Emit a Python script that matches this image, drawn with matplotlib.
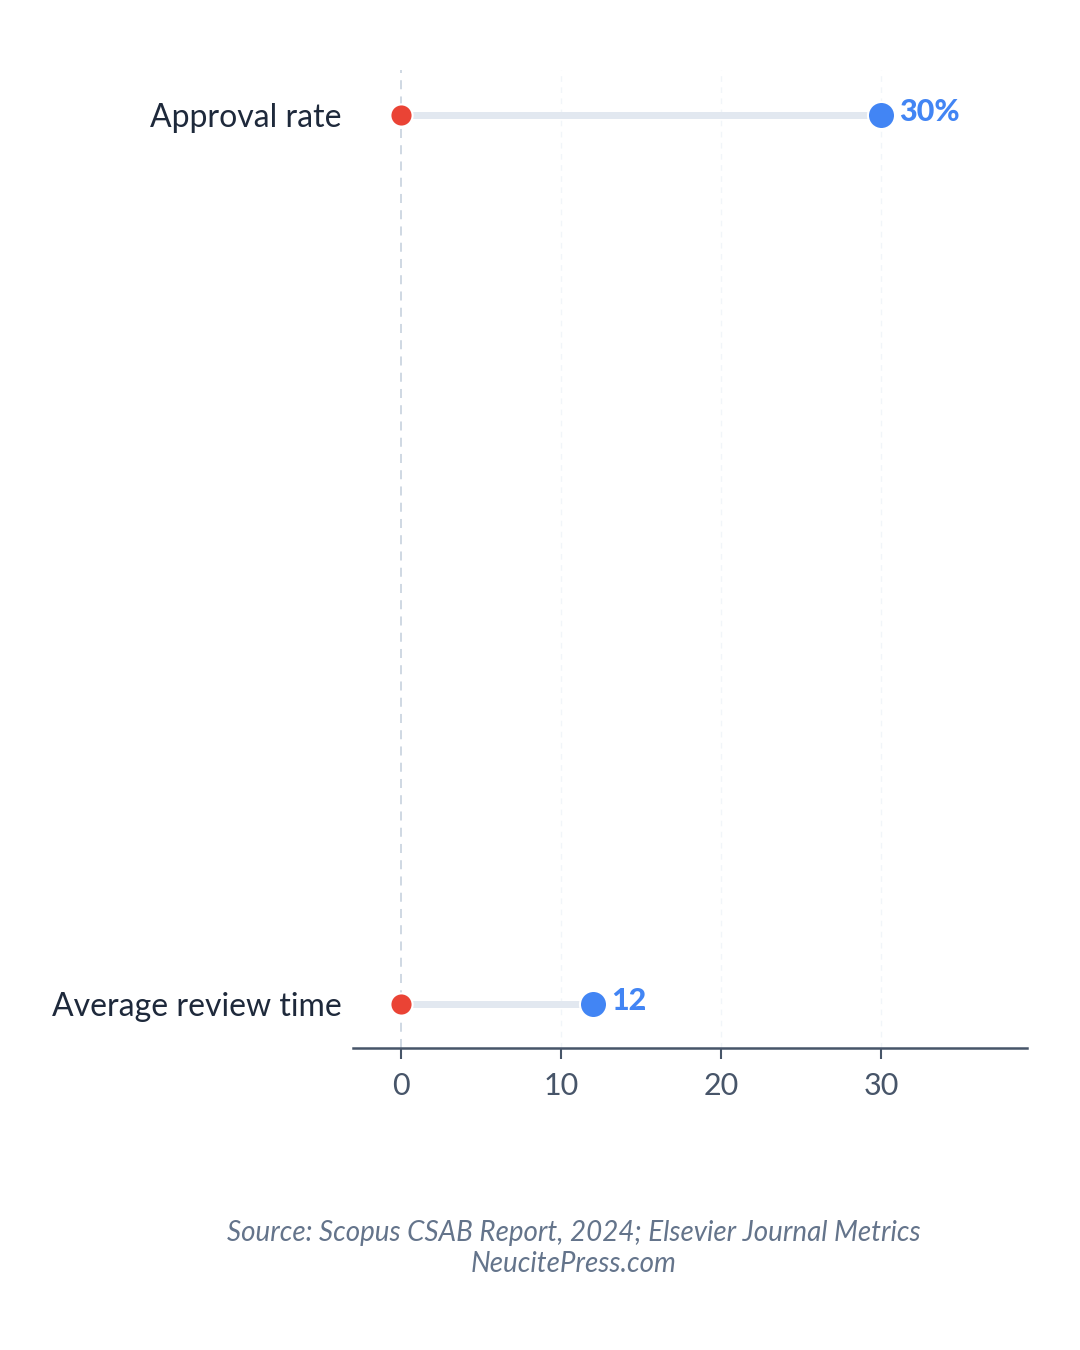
import matplotlib.pyplot as plt

# data
categories = ['Average review time', 'Approval rate']
start_vals = [0, 0]
end_vals = [12, 30]
end_labels = ['12', '30%']
x_ticks = [0, 10, 20, 30]

RED = '#ea4335'
BLUE = '#4285f4'
plt.rcParams['font.family'] = ['Lato', 'DejaVu Sans']

fig = plt.figure(figsize=(10.8, 13.5), dpi=100)
ax = fig.add_axes([0.3269, 0.2237, 0.624, 0.7244])

ypos = list(range(len(categories)))

# faint vertical grid + zero line
for t in x_ticks[1:]:
    ax.axvline(t, color='#f1f5f9', lw=1, ls=(0, (4, 4)), zorder=0)
ax.axvline(0, color='#cbd5e1', lw=1.3, ls=(0, (5, 4)), zorder=1)

# connectors and dots
for y, s, e, lab in zip(ypos, start_vals, end_vals, end_labels):
    ax.plot([s, e], [y, y], color='#e2e8f0', lw=5, solid_capstyle='butt', zorder=2)
    ax.plot(s, y, 'o', color=RED, ms=16, mec='white', mew=1.5, zorder=3)
    ax.plot(e, y, 'o', color=BLUE, ms=19.5, mec='white', mew=1.5, zorder=4)
    ax.annotate(lab, (e, y), xytext=(13, 2), textcoords='offset points',
                ha='left', va='center', fontsize=22, fontweight='black', color=BLUE)

ax.set_xlim(-3, 39.1)
ax.set_ylim(-0.05, 1.05)
ax.set_xticks(x_ticks)
ax.set_yticks(ypos)
ax.set_yticklabels(categories, fontsize=23, color='#1e293b')
ax.tick_params(axis='y', length=0, pad=8)
ax.tick_params(axis='x', length=8, width=1.5, color='#475569', labelsize=22,
               labelcolor='#475569', pad=9)

for side in ['top', 'right', 'left']:
    ax.spines[side].set_visible(False)
ax.spines['bottom'].set_color('#475569')
ax.spines['bottom'].set_linewidth(1.8)

fig.text(0.531, 0.075, 'Source: Scopus CSAB Report, 2024; Elsevier Journal Metrics\nNeucitePress.com',
         ha='center', va='center', fontsize=20, style='italic', color='#64748b',
         linespacing=1.25)

fig.savefig('out.png', dpi=100, facecolor='white')
